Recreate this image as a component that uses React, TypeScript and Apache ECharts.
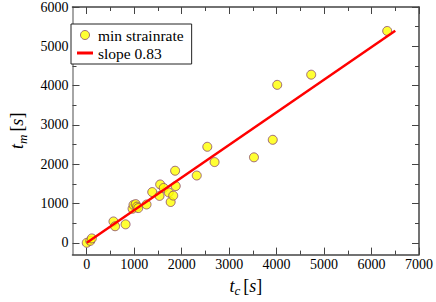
import React, { useEffect, useRef } from "react";
import * as echarts from "echarts";

const tcValues = [0, 74, 107, 563, 597, 818, 965, 985, 1031, 1060, 1085, 1260, 1380, 1534, 1547, 1621, 1728, 1768, 1822, 1862, 1875, 2318, 2540, 2693, 3523, 3919, 4013, 4729, 6330];
const tmValues = [0, 49, 112, 543, 421, 470, 867, 965, 985, 920, 884, 975, 1291, 1193, 1485, 1396, 1282, 1038, 1201, 1834, 1444, 1712, 2443, 2054, 2175, 2621, 4019, 4278, 5390];
const fitX = [0, 6500];
const fitY = [0, 5395];
const xMajor = [0, 1000, 2000, 3000, 4000, 5000, 6000, 7000];
const xMinor = [500, 1500, 2500, 3500, 4500, 5500, 6500];
const yMajor = [0, 1000, 2000, 3000, 4000, 5000, 6000];
const yMinor = [500, 1500, 2500, 3500, 4500, 5500];
const scatterName = "min strainrate";
const lineName = "slope 0.83";

const FONT = "Times New Roman";
const AX = "#444";

export default function App() {
  const ref = useRef<HTMLDivElement>(null);
  useEffect(() => {
    if (!ref.current) return;
    const chart = echarts.init(ref.current, null, { renderer: "svg" });
    const titleRich = {
      i: { fontFamily: FONT, fontStyle: "italic", fontSize: 18, color: "#000" },
      n: { fontFamily: FONT, fontSize: 18, color: "#000" },
      sub: { fontFamily: FONT, fontStyle: "italic", fontSize: 13, color: "#000", padding: [10, 0, 0, 0] },
    };
    const fmt = (v: number) => String(v);
    const mkX = (pos: "bottom" | "top", ticks: number[], len: number, labels: boolean, line: boolean, name?: string) => ({
      type: "value",
      min: -300,
      max: 7000,
      position: pos,
      gridIndex: 0,
      axisLine: { show: line, onZero: false, lineStyle: { color: AX, width: 1.5 } },
      axisTick: { show: true, inside: true, length: len, customValues: ticks, lineStyle: { color: AX, width: 1 } },
      axisLabel: labels
        ? { show: true, customValues: ticks, formatter: fmt, fontFamily: FONT, fontSize: 14, color: "#000", margin: 3 }
        : { show: false },
      splitLine: { show: false },
      name: name,
      nameLocation: "middle",
      nameGap: 18,
      nameTextStyle: { fontFamily: FONT, rich: titleRich },
    });
    const mkY = (pos: "left" | "right", ticks: number[], len: number, labels: boolean, line: boolean, name?: string, color = AX) => ({
      type: "value",
      min: -300,
      max: 6000,
      position: pos,
      gridIndex: 0,
      axisLine: { show: line, onZero: false, lineStyle: { color: color, width: 1.5 } },
      axisTick: { show: true, inside: true, length: len, customValues: ticks, lineStyle: { color: AX, width: 1 } },
      axisLabel: labels
        ? { show: true, customValues: ticks, formatter: fmt, fontFamily: FONT, fontSize: 14, color: "#000", margin: 4 }
        : { show: false },
      splitLine: { show: false },
      name: name,
      nameLocation: "middle",
      nameGap: 44,
      nameRotate: 90,
      nameTextStyle: { fontFamily: FONT, rich: titleRich },
    });
    chart.setOption({
      animation: false,
      backgroundColor: "#fff",
      grid: { left: 57, right: 16, top: 5, bottom: 39, containLabel: false },
      legend: {
        left: 71,
        top: 24,
        orient: "vertical",
        backgroundColor: "#fff",
        borderColor: "#222",
        borderWidth: 1,
        padding: [3, 8, 3, 6],
        itemGap: 2,
        itemWidth: 16,
        itemHeight: 9,
        textStyle: { fontFamily: FONT, fontSize: 15.5, color: "#000" },
        data: [
          { name: scatterName, icon: "circle", itemStyle: { borderWidth: 1, borderColor: "#8a4a6a" } },
          { name: lineName, icon: "path://M0,0 L16,0 L16,3 L0,3 Z" },
        ],
      },
      xAxis: [
        mkX("bottom", xMajor, 7, true, true, "{i|t}{sub|c} {n|[}{i|s}{n|]}"),
        mkX("bottom", xMinor, 4, false, false),
        mkX("top", xMajor, 7, false, true),
        mkX("top", xMinor, 4, false, false),
      ],
      yAxis: [
        mkY("left", yMajor, 7, true, true, "{i|t}{sub|m} {n|[}{i|s}{n|]}", "#888"),
        mkY("left", yMinor, 4, false, false),
        mkY("right", yMajor, 7, false, true),
        mkY("right", yMinor, 4, false, false),
      ],
      series: [
        {
          name: scatterName,
          type: "scatter",
          xAxisIndex: 0,
          yAxisIndex: 0,
          symbol: "circle",
          symbolSize: 9,
          itemStyle: { color: "#ffff00", borderColor: "#8a4a6a", borderWidth: 1 },
          data: tcValues.map((v, i) => [v, tmValues[i]]),
          z: 2,
        },
        {
          name: lineName,
          type: "line",
          xAxisIndex: 0,
          yAxisIndex: 0,
          showSymbol: false,
          symbol: "none",
          lineStyle: { color: "#ff0000", width: 2.5 },
          itemStyle: { color: "#ff0000" },
          data: fitX.map((v, i) => [v, fitY[i]]),
          z: 3,
        },
      ],
    });
    return () => chart.dispose();
  }, []);
  return <div ref={ref} style={{ width: 436, height: 302, position: "absolute", left: 0, top: 0 }} />;
}
